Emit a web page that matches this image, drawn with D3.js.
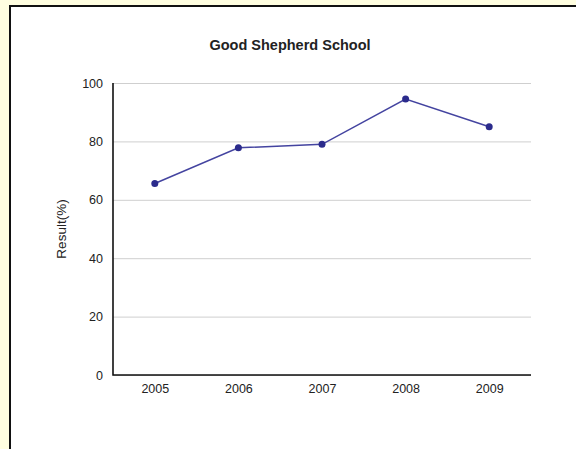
<!DOCTYPE html>
<html>
<head>
<meta charset="utf-8">
<script src="https://cdn.jsdelivr.net/npm/d3@7"></script>
<style>
  body { margin: 0; background: #fffee0; }
  svg { display: block; }
  text { font-family: "Liberation Sans", Arial, sans-serif; fill: #222; }
</style>
</head>
<body>
<svg width="576" height="449"></svg>
<script>
var title = 'Good Shepherd School';
var yLabel = 'Result(%)';
var years = ['2005', '2006', '2007', '2008', '2009'];
var results = [65.6, 77.8, 79.0, 94.5, 85.0];
var yTicks = [0, 20, 40, 60, 80, 100];

var margin = {top: 83, bottom: 74, left: 113, right: 45};
var width = 576, height = 449;

var svg = d3.select('svg');

// white panel with black frame (right/bottom edges fall outside the window)
svg.append('rect')
  .attr('x', 10).attr('y', 6)
  .attr('width', 600).attr('height', 500)
  .attr('fill', '#fff')
  .attr('stroke', '#111')
  .attr('stroke-width', 2);

var xScale = d3.scalePoint()
  .domain(years)
  .range([margin.left, width - margin.right])
  .padding(0.5);

var yScale = d3.scaleLinear()
  .domain([0, 100])
  .range([height - margin.bottom, margin.top]);

// gridlines + y labels
var yAxis = d3.axisLeft(yScale)
  .tickValues(yTicks)
  .tickSize(-(width - margin.left - margin.right))
  .tickPadding(10);

var gy = svg.append('g')
  .attr('transform', 'translate(' + [margin.left, 0] + ')')
  .call(yAxis);
gy.select('.domain').remove();
gy.selectAll('.tick line').attr('stroke', '#cfcfcf');
gy.selectAll('.tick text').attr('font-size', 12.5).attr('fill', '#222');

var xAxis = d3.axisBottom(xScale)
  .tickSize(0)
  .tickPadding(9);

var gx = svg.append('g')
  .attr('transform', 'translate(' + [0, height - margin.bottom] + ')')
  .call(xAxis);
gx.select('.domain').remove();
gx.selectAll('.tick text').attr('font-size', 12.5).attr('fill', '#222');

// axis lines
svg.append('path')
  .attr('d', 'M' + margin.left + ',' + yScale(100) + 'V' + yScale(0) + 'H' + (width - margin.right))
  .attr('fill', 'none')
  .attr('stroke', '#111')
  .attr('stroke-width', 1.6);

// series line
var line = d3.line()
  .x((d, i) => xScale(years[i]))
  .y(d => yScale(d));

svg.append('path')
  .datum(results)
  .attr('d', line)
  .attr('fill', 'none')
  .attr('stroke', '#4444a0')
  .attr('stroke-width', 1.5);

svg.selectAll('circle')
  .data(results)
  .enter().append('circle')
  .attr('cx', (d, i) => xScale(years[i]))
  .attr('cy', d => yScale(d))
  .attr('r', 3.5)
  .attr('fill', '#2b2b8c');

svg.append('text')
  .attr('x', 290).attr('y', 50)
  .attr('text-anchor', 'middle')
  .attr('font-size', 14.5)
  .attr('font-weight', 'bold')
  .text(title);

svg.append('text')
  .attr('transform', 'translate(66,' + ((yScale(0) + yScale(100)) / 2) + ') rotate(-90)')
  .attr('text-anchor', 'middle')
  .attr('font-size', 13.5)
  .text(yLabel);
</script>
</body>
</html>
